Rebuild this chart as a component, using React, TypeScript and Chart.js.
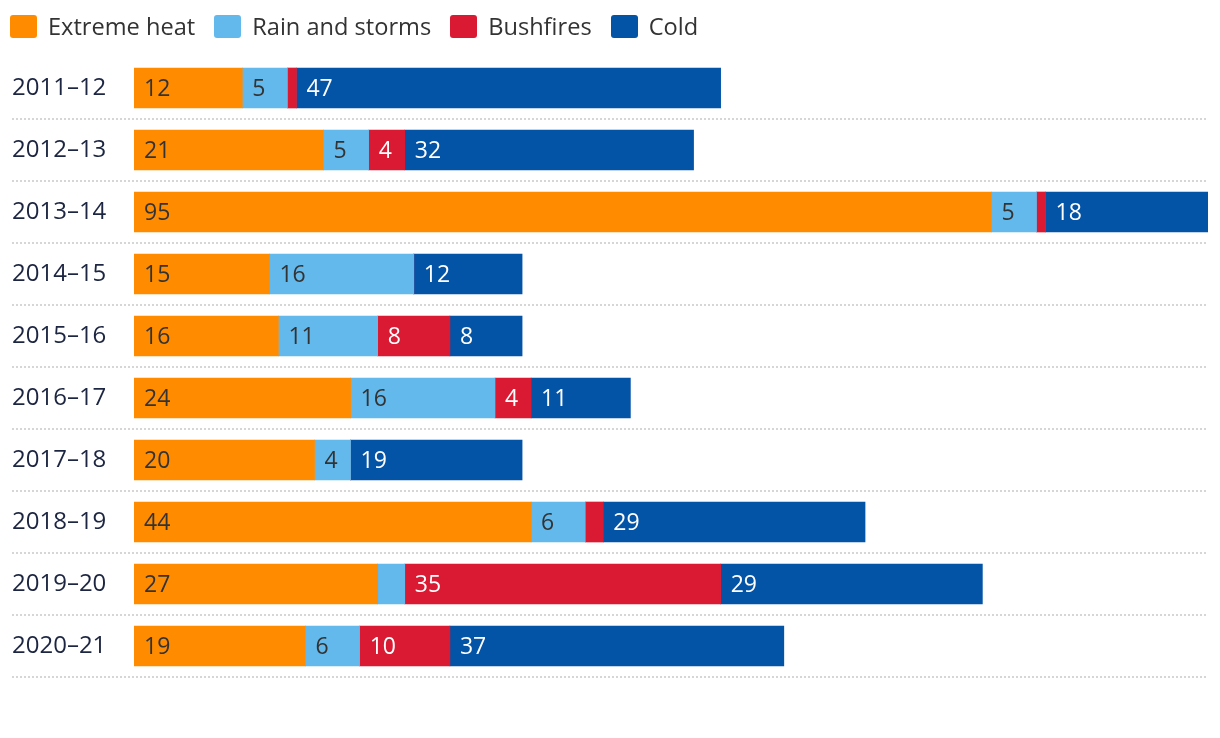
import React, { useEffect, useRef } from "react";
import { Chart, registerables } from "chart.js";

Chart.register(...registerables);

const categories = ["2011–12", "2012–13", "2013–14", "2014–15", "2015–16", "2016–17", "2017–18", "2018–19", "2019–20", "2020–21"];
const seriesNames = ["Extreme heat", "Rain and storms", "Bushfires", "Cold"];
const extremeHeat = [12, 21, 95, 15, 16, 24, 20, 44, 27, 19];
const rainStorms = [5, 5, 5, 16, 11, 16, 4, 6, 3, 6];
const bushfires = [1, 4, 1, 0, 8, 4, 0, 2, 35, 10];
const cold = [47, 32, 18, 12, 8, 11, 19, 29, 29, 37];
const seriesColors = ["#FF8C00", "#63B8EC", "#DA1A32", "#0353A7"];
const labelColors = ["#333333", "#333333", "#FFFFFF", "#FFFFFF"];
const xMax = 119;
const minLabelValue = 4;

const FONT = "'Open Sans', sans-serif";

const valueLabelPlugin = {
  id: "valueLabels",
  afterDatasetsDraw(chart: any) {
    const ctx = chart.ctx;
    ctx.save();
    ctx.font = `23px ${FONT}`;
    ctx.textBaseline = "middle";
    ctx.textAlign = "left";
    chart.data.datasets.forEach((ds: any, di: number) => {
      const meta = chart.getDatasetMeta(di);
      meta.data.forEach((el: any, i: number) => {
        const v = ds.data[i];
        if (v >= minLabelValue) {
          const left = Math.min(el.base, el.x);
          ctx.fillStyle = labelColors[di];
          ctx.fillText(String(v), left + 10, el.y + 1);
        }
      });
    });
    ctx.restore();
  },
};

const separatorPlugin = {
  id: "separators",
  beforeDatasetsDraw(chart: any) {
    const ctx = chart.ctx;
    const y = chart.scales.y;
    const area = chart.chartArea;
    const step = (y.bottom - y.top) / categories.length;
    ctx.save();
    ctx.strokeStyle = "#D6D6D6";
    ctx.lineWidth = 2;
    ctx.setLineDash([2, 2]);
    for (let k = 1; k <= categories.length; k++) {
      const yy = Math.round(y.top + step * k);
      ctx.beginPath();
      ctx.moveTo(12, yy);
      ctx.lineTo(area.right, yy);
      ctx.stroke();
    }
    ctx.restore();
  },
};

export default function App() {
  const ref = useRef<HTMLCanvasElement>(null);
  useEffect(() => {
    if (!ref.current) return;
    const data = [extremeHeat, rainStorms, bushfires, cold];
    const chart = new Chart(ref.current, {
      type: "bar",
      data: {
        labels: categories,
        datasets: seriesNames.map((name, i) => ({
          label: name,
          data: data[i],
          backgroundColor: seriesColors[i],
          borderWidth: 0,
          barThickness: 40,
        })),
      },
      options: {
        indexAxis: "y",
        animation: false,
        responsive: false,
        layout: { padding: { top: 57, bottom: 61, left: 12, right: 12 } },
        plugins: { legend: { display: false }, tooltip: { enabled: false } },
        scales: {
          x: { stacked: true, display: false, min: 0, max: xMax },
          y: {
            stacked: true,
            grid: { display: false },
            border: { display: false },
            ticks: {
              crossAlign: "far",
              color: "#1C2541",
              font: { family: FONT, size: 24 },
              padding: 0,
            },
            afterFit(scale: any) {
              scale.width = 122;
            },
          },
        },
      },
      plugins: [separatorPlugin, valueLabelPlugin],
    });
    return () => chart.destroy();
  }, []);

  return (
    <div style={{ position: "absolute", left: 0, top: 0, width: 1220, height: 738, background: "#fff" }}>
      <canvas ref={ref} width={1220} height={738} style={{ position: "absolute", left: 0, top: 0 }} />
      <div style={{ position: "absolute", left: 10, top: 15, display: "flex", alignItems: "center", fontFamily: FONT, fontSize: 23.6, color: "#333", lineHeight: "23px" }}>
        {seriesNames.map((name, i) => (
          <div key={name} style={{ display: "flex", alignItems: "center", marginRight: 19 }}>
            <span style={{ display: "inline-block", width: 27, height: 23, borderRadius: 3, background: seriesColors[i], marginRight: 11 }} />
            <span>{name}</span>
          </div>
        ))}
      </div>
    </div>
  );
}
